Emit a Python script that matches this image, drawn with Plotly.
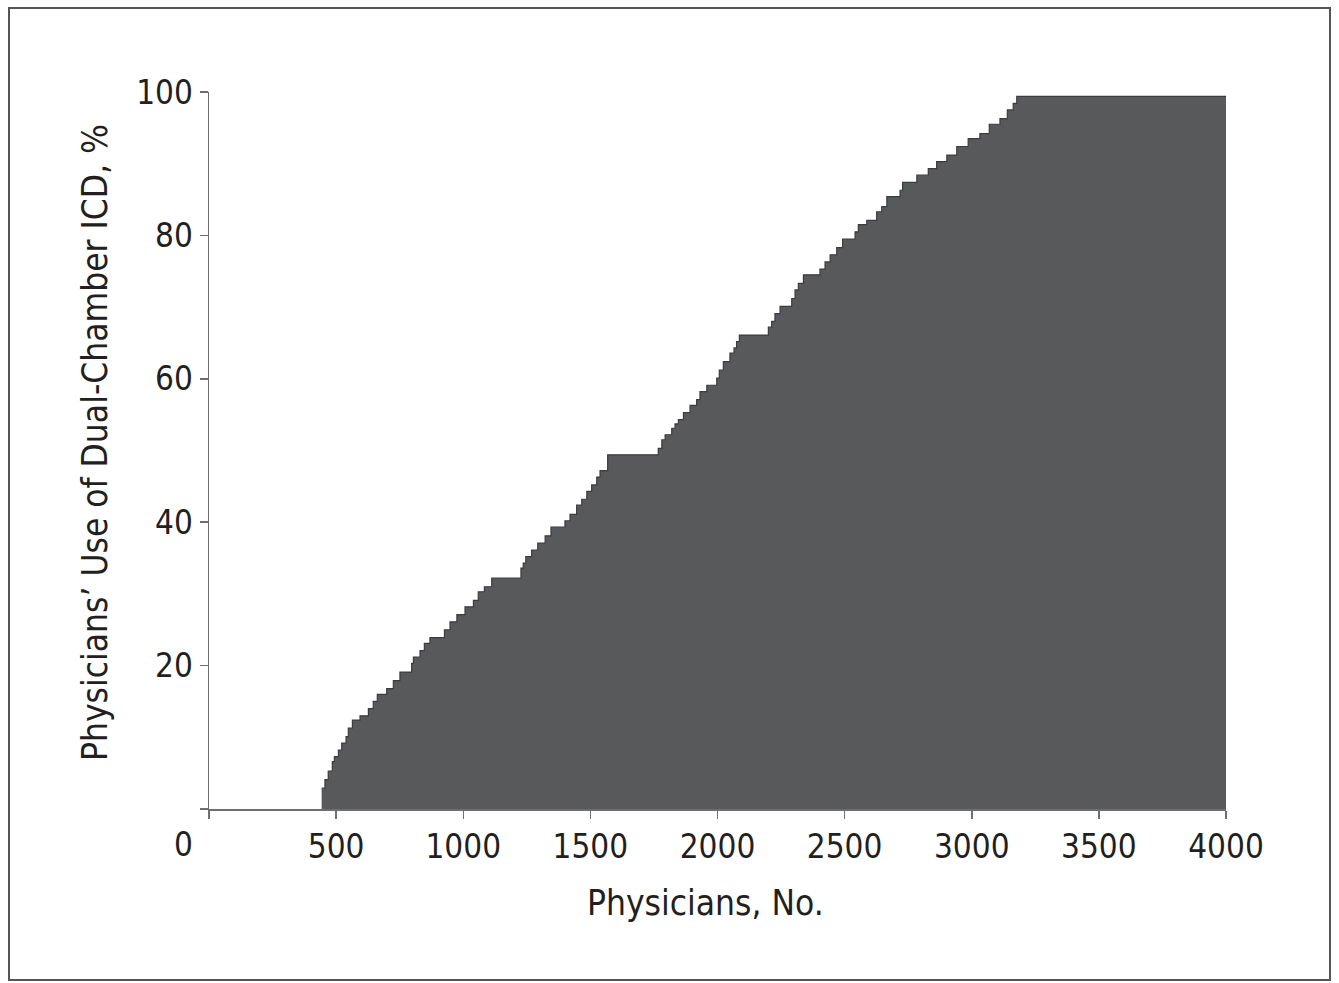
import plotly.graph_objects as go

# Step start positions (cumulative physicians, No.) and use of dual-chamber ICD (%)
physicians_start = [
    443, 456, 469, 485, 493, 509, 522, 539, 548, 564,
    594, 627, 646, 662, 699, 725, 751, 797, 804, 830,
    847, 869, 926, 948, 975, 1007, 1040, 1059, 1083, 1112,
    1227, 1236, 1246, 1269, 1293, 1322, 1345, 1400, 1420, 1446,
    1466, 1486, 1505, 1525, 1538, 1568, 1767, 1781, 1794, 1820,
    1833, 1846, 1866, 1892, 1918, 1931, 1958, 1997, 2007, 2023,
    2049, 2065, 2075, 2086, 2200, 2213, 2226, 2246, 2292, 2305,
    2318, 2338, 2403, 2423, 2443, 2469, 2492, 2541, 2554, 2587,
    2626, 2646, 2666, 2718, 2728, 2784, 2829, 2862, 2902, 2941,
    2986, 3032, 3069, 3111, 3140, 3163, 3177,
]
use_pct = [
    2.9, 4.1, 5.3, 6.6, 7.3, 8.2, 9.2, 10.1, 11.3, 12.4,
    13.0, 14.0, 15.0, 16.0, 16.8, 17.9, 19.1, 20.3, 21.2, 22.1,
    23.1, 23.9, 25.0, 26.1, 27.1, 28.2, 29.1, 30.3, 31.0, 32.2,
    33.6, 34.3, 35.2, 36.1, 37.1, 38.1, 39.3, 40.2, 41.1, 42.4,
    43.2, 44.3, 45.2, 46.3, 47.2, 49.4, 50.3, 51.5, 52.2, 53.1,
    53.7, 54.3, 55.3, 56.3, 57.1, 58.2, 59.1, 60.1, 61.2, 62.4,
    63.6, 64.3, 65.2, 66.1, 67.2, 68.0, 69.1, 70.1, 71.2, 72.4,
    73.3, 74.5, 75.3, 76.3, 77.3, 78.3, 79.5, 80.5, 81.5, 82.1,
    83.3, 84.0, 85.4, 86.3, 87.4, 88.4, 89.3, 90.3, 91.2, 92.4,
    93.5, 94.2, 95.5, 96.3, 97.5, 98.4, 99.4,
]
x_end = 4000

x_ticks = [0, 500, 1000, 1500, 2000, 2500, 3000, 3500, 4000]
x_ticktext = ["", "500", "1000", "1500", "2000", "2500", "3000", "3500", "4000"]
y_ticks = [0, 20, 40, 60, 80, 100]
y_ticktext = ["", "20", "40", "60", "80", "100"]

FONT = "Liberation Sans Narrow, DejaVu Sans Condensed, Roboto Condensed, Arial Narrow, sans-serif"
AXIS_COLOR = "#6d6e71"
TEXT_COLOR = "#231f20"
TICK_SIZE = 33

xs = physicians_start + [x_end]
ys = use_pct + [use_pct[-1]]

fig = go.Figure()
fig.add_trace(go.Scatter(
    x=xs, y=ys, mode="lines", line_shape="hv",
    line=dict(color="#3c3c3e", width=1.2),
    fill="tozeroy", fillcolor="#58595b",
    hoverinfo="skip", showlegend=False,
))

fig.update_layout(
    width=1339, height=983,
    margin=dict(l=209, r=113, t=92, b=174),
    paper_bgcolor="white", plot_bgcolor="white",
    font=dict(family=FONT, size=35, color=TEXT_COLOR),
    showlegend=False,
    xaxis=dict(
        range=[0, 4000], tickvals=x_ticks, ticktext=x_ticktext,
        showgrid=False, zeroline=False, showline=True,
        linecolor=AXIS_COLOR, linewidth=1.5,
        ticks="outside", ticklen=8, tickwidth=1.5, tickcolor=AXIS_COLOR,
        tickfont=dict(size=TICK_SIZE, color=TEXT_COLOR),
    ),
    yaxis=dict(
        range=[0, 100], tickvals=y_ticks, ticktext=y_ticktext,
        showgrid=False, zeroline=False, showline=True,
        linecolor=AXIS_COLOR, linewidth=1.5,
        ticks="outside", ticklen=8, tickwidth=1.5, tickcolor=AXIS_COLOR,
        tickfont=dict(size=TICK_SIZE, color=TEXT_COLOR),
    ),
    annotations=[
        dict(text="0", xref="paper", yref="paper",
             x=(183 - 209) / 1017, y=(809 - 845) / 717,
             xanchor="center", yanchor="middle", showarrow=False,
             font=dict(size=TICK_SIZE, color=TEXT_COLOR)),
        dict(text="Physicians, No.", xref="paper", yref="paper",
             x=(705 - 209) / 1017, y=(809 - 903) / 717,
             xanchor="center", yanchor="middle", showarrow=False,
             font=dict(size=35, color=TEXT_COLOR)),
        dict(text="Physicians\u2019 Use of Dual-Chamber ICD, %", xref="paper", yref="paper",
             x=(95 - 209) / 1017, y=(809 - 443) / 717, textangle=-90,
             xanchor="center", yanchor="middle", showarrow=False,
             font=dict(size=35, color=TEXT_COLOR)),
    ],
    shapes=[
        dict(type="rect", xref="paper", yref="paper",
             x0=(9 - 209) / 1017, x1=(1330 - 209) / 1017,
             y0=(809 - 980) / 717, y1=(809 - 8) / 717,
             line=dict(color="#555555", width=2), fillcolor="rgba(0,0,0,0)",
             layer="below"),
    ],
)

fig.write_html(
    "out.html",
    config={"displayModeBar": False, "staticPlot": True},
    post_script="document.body.style.margin='0';document.body.style.overflow='hidden';",
)
